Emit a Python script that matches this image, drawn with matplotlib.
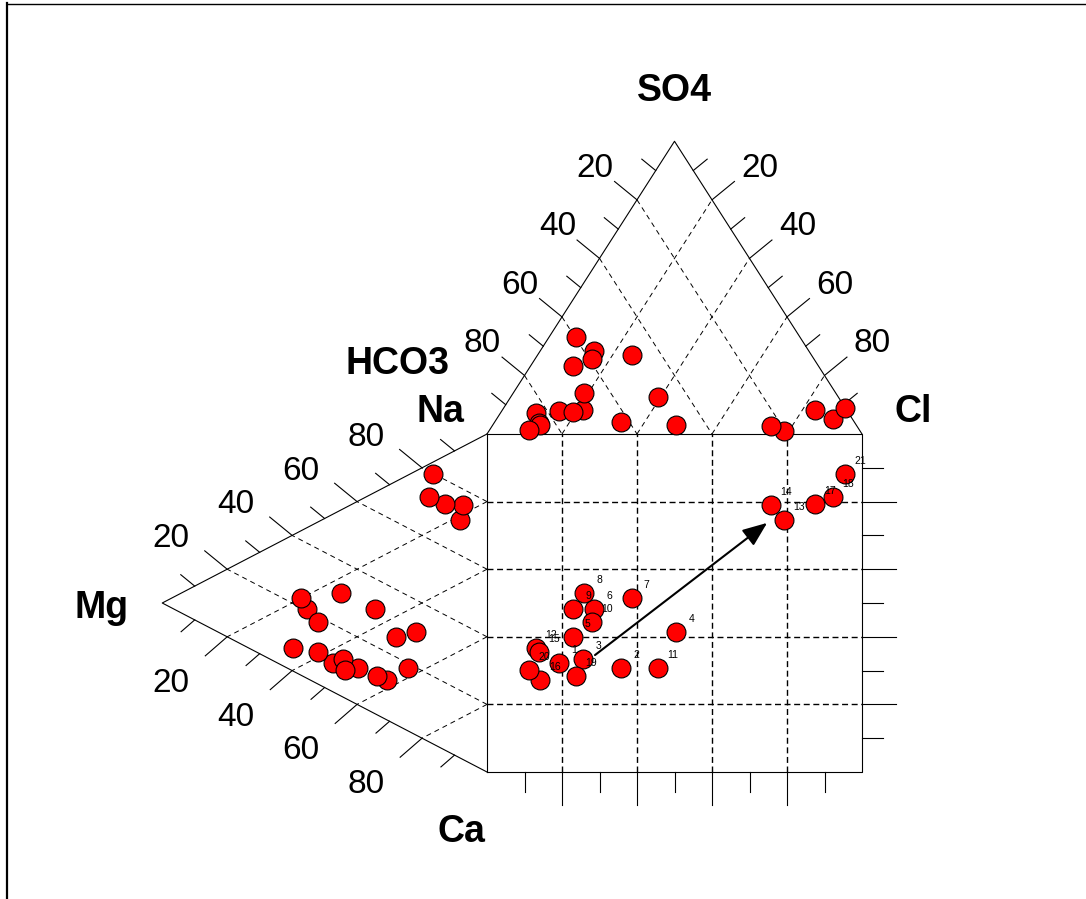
import numpy as np
import matplotlib
matplotlib.use('Agg')
import matplotlib.pyplot as plt
from matplotlib.lines import Line2D

plt.rcParams['font.family'] = ['Liberation Sans', 'DejaVu Sans']
plt.rcParams['lines.scale_dashes'] = False

# 21 water samples, composition in % meq/l
sample_ids = [str(i) for i in range(1, 22)]
mg_pct = [47.5, 39.6, 44.2, 21.9, 28.0, 55.5, 57.3, 45.0, 34.5, 52.1, 24.2,
          59.8, 8.3, 7.5, 51.9, 30.7, 12.9, 17.8, 34.0, 43.7, 16.5]
na_pct = [8.4, 10.9, 11.2, 30.4, 25.9, 20.5, 22.7, 30.4, 31.0, 18.2, 18.8,
          6.7, 70.4, 75.2, 9.6, 11.9, 72.8, 72.4, 11.4, 8.3, 79.8]
so4_pct = [8.0, 4.2, 8.2, 3.1, 7.6, 28.2, 27.1, 14.1, 23.3, 25.6, 12.8,
           7.1, 1.1, 2.7, 3.7, 3.1, 8.2, 5.0, 33.3, 1.4, 9.0]
cl_pct = [15.3, 33.6, 21.6, 48.9, 19.1, 14.5, 25.0, 18.9, 11.4, 15.3, 39.1,
          9.5, 78.6, 74.3, 12.1, 12.6, 83.4, 89.7, 7.0, 10.6, 91.0]

# evolution arrow in the square (% anion axis, % cation axis)
trend_start = [28.8, 34.6]
trend_end = [74.7, 73.7]

H = np.sqrt(3) / 2
PXX, PXY = 375.0, 338.0  # pixels per unit in x and y


def anion_xy(so4, cl):
    so4 = np.asarray(so4, float) / 100
    cl = np.asarray(cl, float) / 100
    return cl + so4 / 2, 1 + H * so4


def cation_xy(mg, na):
    mg = np.asarray(mg, float) / 100
    na = np.asarray(na, float) / 100
    return -H * mg, na + mg / 2


fig = plt.figure(figsize=(10.86, 8.99), dpi=100)
ax = fig.add_axes([0, 0, 1, 1])
ax.set_xlim(-487 / PXX, 599 / PXX)
ax.set_ylim(-127 / PXY, 772 / PXY)
ax.axis('off')

T = anion_xy(100, 0)
L = anion_xy(0, 0)
R = anion_xy(0, 100)
A = cation_xy(100, 0)
B = cation_xy(0, 100)
C = cation_xy(0, 0)

edge_kw = dict(color='black', lw=0.8, zorder=2)
tri_dash = dict(color='black', lw=0.7, ls=(0, (3.6, 2.9)), zorder=1)
sq_dash = dict(color='black', lw=1.0, ls=(0, (4.3, 2.6)), zorder=1)

# outlines
ax.plot([L[0], T[0], R[0]], [L[1], T[1], R[1]], **edge_kw)
ax.plot([B[0], A[0], C[0]], [B[1], A[1], C[1]], **edge_kw)
ax.plot([0, 1, 1, 0, 0], [0, 0, 1, 1, 0], **edge_kw)

# grids
for k in (20, 40, 60, 80):
    # top triangle: constant HCO3 and constant Cl
    x0, y0 = anion_xy(100 - k, 0)
    x1, y1 = anion_xy(0, 100 - k)
    ax.plot([x0, x1], [y0, y1], **tri_dash)
    x0, y0 = anion_xy(0, k)
    x1, y1 = anion_xy(100 - k, k)
    ax.plot([x0, x1], [y0, y1], **tri_dash)
    # left triangle: constant Na and constant Ca
    x0, y0 = cation_xy(0, k)
    x1, y1 = cation_xy(100 - k, k)
    ax.plot([x0, x1], [y0, y1], **tri_dash)
    x0, y0 = cation_xy(0, 100 - k)
    x1, y1 = cation_xy(100 - k, 0)
    ax.plot([x0, x1], [y0, y1], **tri_dash)
    # square
    ax.plot([k / 100, k / 100], [0, 1], **sq_dash)
    ax.plot([0, 1], [k / 100, k / 100], **sq_dash)


def edge_ticks(p0, p1, d, off):
    d = np.array(d, float) / np.hypot(*d)
    for k in range(1, 10):
        t = k / 10
        x0 = p0[0] + t * (p1[0] - p0[0])
        y0 = p0[1] + t * (p1[1] - p0[1])
        ln = 29 if k % 2 == 0 else 18
        ax.plot([x0, x0 + d[0] * ln / PXX], [y0, y0 + d[1] * ln / PXY], **edge_kw)
        if k % 2 == 0:
            ax.text(x0 + off[0] / PXX, y0 + (off[1] - 12) / PXY, str(k * 10),
                    fontsize=24, ha='center', va='baseline')


edge_ticks(T, L, (-0.774, 0.633), (-42, 35))
edge_ticks(T, R, (0.774, 0.633), (48, 35))
edge_ticks(A, B, (-0.774, 0.633), (-56, 34))
edge_ticks(A, C, (-0.755, -0.656), (-56, -43))

# square outer ticks
for k in range(1, 10):
    v = k / 10
    ln = 34 if k % 2 == 0 else 21
    ax.plot([1, 1 + ln / PXX], [v, v], **edge_kw)
    ln = 33 if k % 2 == 0 else 20
    ax.plot([v, v], [0, -ln / PXY], **edge_kw)

# axis names
def name(p, dx, dy, s):
    ax.text(p[0] + dx / PXX, p[1] + (dy - 13.5) / PXY, s, fontsize=27,
            fontweight='bold', ha='center', va='baseline')


name(T, 0, 54, 'SO4')
name(L, -89, 74, 'HCO3')
name(L, -47, 26, 'Na')
name(R, 51, 26, 'Cl')
name(A, -61, -1, 'Mg')
name(C, -26, -56, 'Ca')

# samples
ax_x, ax_y = anion_xy(so4_pct, cl_pct)
cat_x, cat_y = cation_xy(mg_pct, na_pct)
mk = dict(s=185, c='#ff0000', edgecolors='black', linewidths=0.8, zorder=3)
ax.scatter(ax_x, ax_y, **mk)
ax.scatter(cat_x, cat_y, **mk)
ax.scatter(ax_x, cat_y, **mk)
for sid, x, y in zip(sample_ids, ax_x, cat_y):
    ax.text(x + 15 / PXX, y + 13 / PXY, sid, fontsize=7.5, ha='center',
            va='center', zorder=4)

ax.annotate('', xy=(trend_end[0] / 100, trend_end[1] / 100),
            xytext=(trend_start[0] / 100, trend_start[1] / 100),
            arrowprops=dict(arrowstyle='-|>,head_length=0.75,head_width=0.3',
                            color='black', lw=1.5, mutation_scale=20,
                            shrinkA=0, shrinkB=0), zorder=5)

# border of the original frame (top and left)
fig.add_artist(Line2D([7 / 1086, 7 / 1086], [0, 1 - 3 / 899],
                      transform=fig.transFigure, color='black', lw=1.6))
fig.add_artist(Line2D([7 / 1086, 1], [1 - 3.5 / 899, 1 - 3.5 / 899],
                      transform=fig.transFigure, color='black', lw=1.0))

fig.savefig('out.png', dpi=100)
